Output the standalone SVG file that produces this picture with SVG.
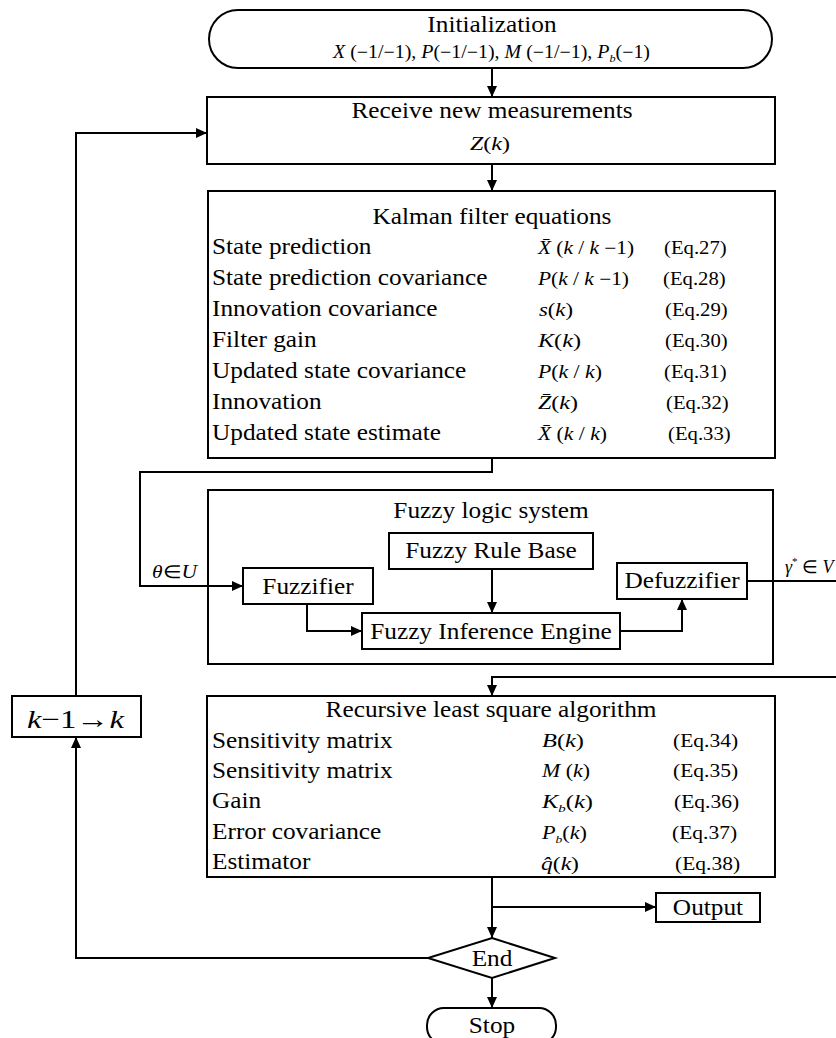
<svg xmlns="http://www.w3.org/2000/svg" width="836" height="1038" viewBox="0 0 836 1038">
<style>
.t{font-family:"Liberation Serif","Times New Roman",serif;fill:#000}
.lbl{font-size:22.6px}
.c{text-anchor:middle}
.m{font-size:18px}
.eq{font-size:18.5px}
.eq2{font-size:19.2px}
.i{font-style:italic}
.box{fill:#fff;stroke:#000;stroke-width:2}
.ln{fill:none;stroke:#000;stroke-width:2}
</style>
<defs>
<marker id="ah" markerWidth="11" markerHeight="10" refX="11" refY="5" orient="auto" markerUnits="userSpaceOnUse"><path d="M0,0 L11,5 L0,10 z" fill="#000"/></marker>
</defs>
<rect width="836" height="1038" fill="#fff"/>

<g id="init">
<rect class="box" x="209" y="10" width="563" height="58" rx="29" ry="29"/>
<text class="t lbl c" transform="translate(492,32) scale(1.12,1)">Initialization</text>
<text class="t m" x="333" y="58" textLength="317" lengthAdjust="spacingAndGlyphs"><tspan class="i">X</tspan> (−1/−1), <tspan class="i">P</tspan>(−1/−1), <tspan class="i">M</tspan> (−1/−1), <tspan class="i">P</tspan><tspan class="i" font-size="11" dy="4">b</tspan><tspan dy="-4">(−1)</tspan></text>
</g>

<g id="receive">
<rect class="box" x="207" y="97" width="568" height="67"/>
<text class="t lbl c" transform="translate(492,118) scale(1.12,1)">Receive new measurements</text>
<text class="t m" x="470" y="150" textLength="40" lengthAdjust="spacingAndGlyphs" font-size="19"><tspan class="i">Z</tspan>(<tspan class="i">k</tspan>)</text>
</g>

<g id="kalman">
<rect class="box" x="208" y="191" width="567" height="267"/>
<text class="t lbl c" transform="translate(492,224) scale(1.12,1)">Kalman filter equations</text>
<text class="t lbl" transform="translate(212,254) scale(1.12,1)">State prediction</text>
<text class="t lbl" transform="translate(212,285) scale(1.12,1)">State prediction covariance</text>
<text class="t lbl" transform="translate(212,316) scale(1.12,1)">Innovation covariance</text>
<text class="t lbl" transform="translate(212,347) scale(1.12,1)">Filter gain</text>
<text class="t lbl" transform="translate(212,378) scale(1.12,1)">Updated state covariance</text>
<text class="t lbl" transform="translate(212,409) scale(1.12,1)">Innovation</text>
<text class="t lbl" transform="translate(212,440) scale(1.12,1)">Updated state estimate</text>

<text class="t m" x="538" y="254" textLength="96" lengthAdjust="spacingAndGlyphs"><tspan class="i">X̄</tspan> (<tspan class="i">k</tspan> / <tspan class="i">k</tspan> −1)</text>
<text class="t m" x="538" y="285" textLength="91" lengthAdjust="spacingAndGlyphs"><tspan class="i">P</tspan>(<tspan class="i">k</tspan> / <tspan class="i">k</tspan> −1)</text>
<text class="t m" x="539" y="316" textLength="34" lengthAdjust="spacingAndGlyphs"><tspan class="i">s</tspan>(<tspan class="i">k</tspan>)</text>
<text class="t m" x="538" y="347" textLength="43" lengthAdjust="spacingAndGlyphs"><tspan class="i">K</tspan>(<tspan class="i">k</tspan>)</text>
<text class="t m" x="538" y="378" textLength="64" lengthAdjust="spacingAndGlyphs"><tspan class="i">P</tspan>(<tspan class="i">k</tspan> / <tspan class="i">k</tspan>)</text>
<text class="t m" x="538" y="409" textLength="40" lengthAdjust="spacingAndGlyphs"><tspan class="i">Z̄</tspan>(<tspan class="i">k</tspan>)</text>
<text class="t m" x="538" y="440" textLength="69" lengthAdjust="spacingAndGlyphs"><tspan class="i">X̄</tspan> (<tspan class="i">k</tspan> / <tspan class="i">k</tspan>)</text>

<text class="t eq" transform="translate(664,254) scale(1.12,1)">(Eq.27)</text>
<text class="t eq" transform="translate(663,285) scale(1.12,1)">(Eq.28)</text>
<text class="t eq" transform="translate(665,316) scale(1.12,1)">(Eq.29)</text>
<text class="t eq" transform="translate(665,347) scale(1.12,1)">(Eq.30)</text>
<text class="t eq" transform="translate(664,378) scale(1.12,1)">(Eq.31)</text>
<text class="t eq" transform="translate(666,409) scale(1.12,1)">(Eq.32)</text>
<text class="t eq" transform="translate(668,440) scale(1.12,1)">(Eq.33)</text>
</g>

<g id="fuzzy-system">
<rect class="box" x="208" y="490" width="565" height="174"/>
<text class="t lbl c" transform="translate(491,518) scale(1.12,1)">Fuzzy logic system</text>
</g>
<g id="rule-base">
<rect class="box" x="389" y="533" width="204" height="36"/>
<text class="t lbl c" transform="translate(491,558) scale(1.12,1)">Fuzzy Rule Base</text>
</g>
<g id="fuzzifier">
<rect class="box" x="243" y="568" width="130" height="36"/>
<text class="t lbl c" transform="translate(308,594) scale(1.12,1)">Fuzzifier</text>
</g>
<g id="inference">
<rect class="box" x="362" y="613" width="258" height="36"/>
<text class="t lbl c" transform="translate(491,639) scale(1.12,1)">Fuzzy Inference Engine</text>
</g>
<g id="defuzzifier">
<rect class="box" x="617" y="563" width="130" height="36"/>
<text class="t lbl c" transform="translate(682,588) scale(1.12,1)">Defuzzifier</text>
</g>

<g id="k-update">
<rect class="box" x="12" y="696" width="129" height="41"/>
<text class="t" x="27" y="728" font-size="26" textLength="97" lengthAdjust="spacingAndGlyphs"><tspan class="i">k</tspan>−1→<tspan class="i">k</tspan></text>
</g>

<g id="rls">
<rect class="box" x="207" y="696" width="568" height="181"/>
<text class="t lbl c" transform="translate(491,717) scale(1.12,1)">Recursive least square algorithm</text>
<text class="t lbl" transform="translate(212,748) scale(1.12,1)">Sensitivity matrix</text>
<text class="t lbl" transform="translate(212,778) scale(1.12,1)">Sensitivity matrix</text>
<text class="t lbl" transform="translate(212,808) scale(1.12,1)">Gain</text>
<text class="t lbl" transform="translate(212,839) scale(1.12,1)">Error covariance</text>
<text class="t lbl" transform="translate(212,869) scale(1.12,1)">Estimator</text>

<text class="t m" x="542" y="747" textLength="42" lengthAdjust="spacingAndGlyphs"><tspan class="i">B</tspan>(<tspan class="i">k</tspan>)</text>
<text class="t m" x="542" y="777" textLength="48" lengthAdjust="spacingAndGlyphs"><tspan class="i">M</tspan> (<tspan class="i">k</tspan>)</text>
<text class="t m" x="542" y="808" textLength="51" lengthAdjust="spacingAndGlyphs"><tspan class="i">K</tspan><tspan class="i" font-size="11" dy="4">b</tspan><tspan dy="-4">(</tspan><tspan class="i">k</tspan>)</text>
<text class="t m" x="542" y="839" textLength="45" lengthAdjust="spacingAndGlyphs"><tspan class="i">P</tspan><tspan class="i" font-size="11" dy="4">b</tspan><tspan dy="-4">(</tspan><tspan class="i">k</tspan>)</text>
<text class="t m" x="541" y="870" textLength="38" lengthAdjust="spacingAndGlyphs"><tspan class="i">q̂</tspan>(<tspan class="i">k</tspan>)</text>

<text class="t eq2" transform="translate(673,747) scale(1.12,1)">(Eq.34)</text>
<text class="t eq2" transform="translate(673,777) scale(1.12,1)">(Eq.35)</text>
<text class="t eq2" transform="translate(674,808) scale(1.12,1)">(Eq.36)</text>
<text class="t eq2" transform="translate(672,839) scale(1.12,1)">(Eq.37)</text>
<text class="t eq2" transform="translate(675,870) scale(1.12,1)">(Eq.38)</text>
</g>

<g id="output">
<rect class="box" x="656" y="893" width="104" height="29"/>
<text class="t lbl c" transform="translate(708,915) scale(1.12,1)">Output</text>
</g>

<g id="end">
<polygon class="box" points="492,938 555,958 492,978 428,958"/>
<text class="t lbl c" transform="translate(492,966) scale(1.12,1)">End</text>
</g>

<g id="stop">
<rect class="box" x="427" y="1008" width="129" height="36" rx="17" ry="17"/>
<text class="t lbl c" transform="translate(492,1033) scale(1.12,1)">Stop</text>
</g>

<g id="connectors">
<path class="ln" d="M492,68 V97" marker-end="url(#ah)"/>
<path class="ln" d="M492,164 V191" marker-end="url(#ah)"/>
<path class="ln" d="M492,458 V472 H140 V586 H243" marker-end="url(#ah)"/>
<path class="ln" d="M492,569 V613" marker-end="url(#ah)"/>
<path class="ln" d="M307,604 V631 H362" marker-end="url(#ah)"/>
<path class="ln" d="M620,631 H682 V599" marker-end="url(#ah)"/>
<path class="ln" d="M747,581 H840"/>
<path class="ln" d="M840,677 H492 V696" marker-end="url(#ah)"/>
<path class="ln" d="M492,877 V938" marker-end="url(#ah)"/>
<path class="ln" d="M492,907 H656" marker-end="url(#ah)"/>
<path class="ln" d="M492,978 V1008" marker-end="url(#ah)"/>
<path class="ln" d="M428,958 H76 V737" marker-end="url(#ah)"/>
<path class="ln" d="M76,696 V133 H207" marker-end="url(#ah)"/>
<text class="t m" x="152" y="578" textLength="45" lengthAdjust="spacingAndGlyphs"><tspan class="i">θ</tspan>∈<tspan class="i">U</tspan></text>
<text class="t m" x="785" y="573"><tspan class="i">γ</tspan><tspan font-size="11" dy="-8">*</tspan><tspan dy="8"> ∈ </tspan><tspan class="i">V</tspan></text>
</g>
</svg>
